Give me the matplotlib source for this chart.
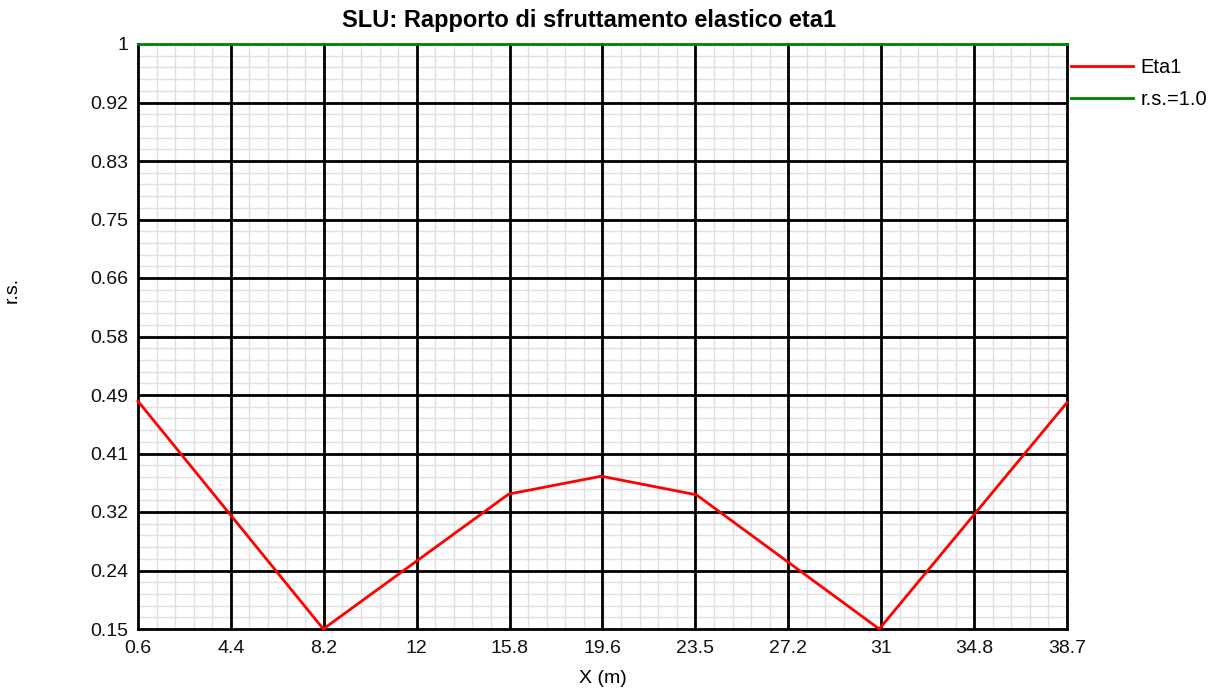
import matplotlib
matplotlib.use("Agg")
import matplotlib.pyplot as plt
import numpy as np

x_data = [0.6, 8.2, 15.8, 19.6, 23.5, 31.0, 38.7]
eta1 = [0.481, 0.15, 0.346, 0.372, 0.345, 0.15, 0.479]
rs_x = [0.6, 38.7]
rs_y = [1.0, 1.0]

x_ticks = [0.6, 4.41, 8.22, 12.03, 15.84, 19.65, 23.46, 27.27, 31.08, 34.89, 38.7]
x_labels = ["0.6", "4.4", "8.2", "12", "15.8", "19.6", "23.5", "27.2", "31", "34.8", "38.7"]
y_ticks = [0.15, 0.235, 0.32, 0.405, 0.49, 0.575, 0.66, 0.745, 0.83, 0.915, 1.0]
y_labels = ["0.15", "0.24", "0.32", "0.41", "0.49", "0.58", "0.66", "0.75", "0.83", "0.92", "1"]

plt.rcParams['font.family'] = ['Liberation Sans', 'DejaVu Sans']

W, H = 1220, 688
fig = plt.figure(figsize=(W / 100, H / 100), dpi=100)
L, R, T, B = 138, 1067, 44, 629
ax = fig.add_axes([L / W, 1 - B / H, (R - L) / W, (B - T) / H])

ax.set_xlim(x_ticks[0], x_ticks[-1])
ax.set_ylim(y_ticks[0], y_ticks[-1])

# minor grid (drawn below the major grid)
xmin = np.linspace(x_ticks[0], x_ticks[-1], (len(x_ticks) - 1) * 5 + 1)
ymin = np.linspace(y_ticks[0], y_ticks[-1], (len(y_ticks) - 1) * 5 + 1)
for v in xmin:
    ax.axvline(v, color='#e0e0e0', linewidth=1.0, zorder=0.5)
for v in ymin:
    ax.axhline(v, color='#e0e0e0', linewidth=1.0, zorder=0.5)
for v in x_ticks[1:-1]:
    ax.axvline(v, color='black', linewidth=2.0, zorder=1)
for v in y_ticks[1:-1]:
    ax.axhline(v, color='black', linewidth=2.0, zorder=1)

ax.set_xticks(x_ticks)
ax.set_xticklabels(x_labels)
ax.set_yticks(y_ticks)
ax.set_yticklabels(y_labels)
ax.tick_params(which='both', length=0)
ax.tick_params(axis='both', labelsize=14, colors='#111111')
ax.tick_params(axis='x', pad=8)
ax.tick_params(axis='y', pad=7)

for s in ['left', 'right', 'bottom']:
    ax.spines[s].set_color('black')
    ax.spines[s].set_linewidth(2.0)
    ax.spines[s].set_zorder(2)
ax.spines['top'].set_visible(False)

ax.plot(x_data, eta1, color='#ff0000', linewidth=2.0, label='Eta1', clip_on=False, zorder=5)
ax.plot(rs_x, rs_y, color='#008000', linewidth=2.0, label='r.s.=1.0', clip_on=False, zorder=5)

ax.set_title('SLU: Rapporto di sfruttamento elastico eta1', fontsize=17, fontweight='bold',
             pad=12, x=(589 - L) / (R - L))
ax.set_xlabel('X (m)', fontsize=14, labelpad=9)
fig.text(12 / W, 1 - 290 / H, 'r.s.', rotation=90, fontsize=14, ha='center', va='center')

leg = ax.legend(loc='upper left', bbox_to_anchor=(1 + 4 / 929, 1 - 14 / 585), frameon=False,
                fontsize=14.5, handlelength=3.1, handletextpad=0.35, labelspacing=0.65,
                borderpad=0, borderaxespad=0)

fig.savefig('out.png', dpi=100)
